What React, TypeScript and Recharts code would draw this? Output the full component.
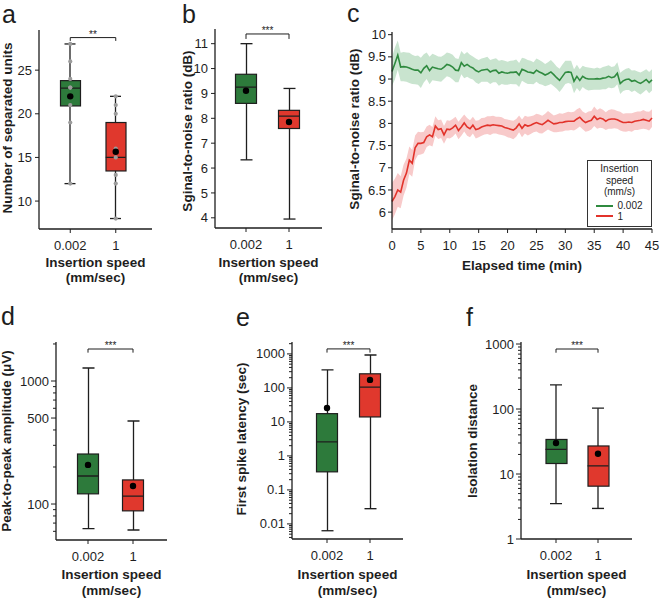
import React from 'react';
import {
  ComposedChart, Bar, Scatter, Line, Area, XAxis, YAxis, ReferenceLine, Label, Legend,
} from 'recharts';

const FONT = 'Arial, "Liberation Sans", Helvetica, sans-serif';
const INK = '#1e1e1e';
const GREEN = '#2d7a3b';
const RED = '#e0382d';
const GREEN_LINE = '#2f8a3f';
const RED_LINE = '#e2332b';
const GREEN_BAND = '#c9e4cf';
const RED_BAND = '#f8caca';
const DOT_GRAY = '#9c9c9c';

// ---------- shared categories ----------
const speedCategories = ['0.002', '1'];
const speedColors = [GREEN, RED];
const xTitleLines = ['Insertion speed', '(mm/sec)'];

// ---------- panel a : number of separated units ----------
const unitsLow = [12, 8];
const unitsQ1 = [20.9, 13.45];
const unitsMedian = [22.95, 15];
const unitsQ3 = [23.8, 19];
const unitsHigh = [28, 22];
const unitsMean = [22, 15.65];
const unitsPoints = [
  [28, 22], [26, 21], [24, 20], [23, 16], [23, 15], [21, 13], [19, 12], [12, 8],
];
const unitsTicks = [10, 15, 20, 25];

// ---------- panel b : SNR ----------
const snrLow = [6.33, 3.95];
const snrQ1 = [8.6, 7.59];
const snrMedian = [9.25, 8.09];
const snrQ3 = [9.77, 8.32];
const snrHigh = [11.0, 9.2];
const snrMean = [9.11, 7.85];
const snrTicks = [4, 5, 6, 7, 8, 9, 10, 11];

// ---------- panel c : SNR over time ----------
const timeMinutes = [
  0, 0.5, 1, 1.5, 2, 2.5, 3, 3.5, 4, 4.5, 5,
  5.5, 6, 6.5, 7, 7.5, 8, 8.5, 9, 9.5, 10,
  10.5, 11, 11.5, 12, 12.5, 13, 13.5, 14, 14.5, 15,
  15.5, 16, 16.5, 17, 17.5, 18, 18.5, 19, 19.5, 20,
  20.5, 21, 21.5, 22, 22.5, 23, 23.5, 24, 24.5, 25,
  25.5, 26, 26.5, 27, 27.5, 28, 28.5, 29, 29.5, 30,
  30.5, 31, 31.5, 32, 32.5, 33, 33.5, 34, 34.5, 35,
  35.5, 36, 36.5, 37, 37.5, 38, 38.5, 39, 39.5, 40,
  40.5, 41, 41.5, 42, 42.5, 43, 43.5, 44, 44.5, 45,
];
const slowSnrMean = [
  9.17, 9.35, 9.54, 9.27, 9.28, 9.27, 9.25, 9.22, 9.2, 9.2, 9.14,
  9.24, 9.3, 9.19, 9.27, 9.25, 9.23, 9.22, 9.27, 9.33, 9.31,
  9.27, 9.2, 9.19, 9.37, 9.29, 9.33, 9.28, 9.25, 9.19, 9.16,
  9.2, 9.21, 9.22, 9.16, 9.19, 9.2, 9.13, 9.16, 9.14, 9.13,
  9.15, 9.15, 9.16, 9.09, 9.22, 9.19, 9.16, 9.15, 9.13, 9.2,
  9.16, 9.13, 9.09, 9.12, 9.16, 9.1, 9.03, 8.97, 9.06, 9.15,
  9.16, 9.15, 8.95, 9.06, 8.97, 9.06, 9.02, 9.0, 9.0, 9.0,
  9.01, 9.0, 9.02, 9.03, 9.06, 9.03, 9.05, 9.13, 8.9, 8.96,
  8.99, 9.0, 8.95, 8.97, 8.93, 8.9, 8.94, 8.99, 8.92, 8.98,
];
const slowSnrSpread = [
  0.32, 0.36, 0.33, 0.32, 0.33, 0.33, 0.34, 0.33, 0.32, 0.33, 0.34,
  0.32, 0.3, 0.31, 0.3, 0.29, 0.28, 0.28, 0.27, 0.27, 0.27,
  0.28, 0.27, 0.26, 0.26, 0.27, 0.28, 0.27, 0.26, 0.27, 0.27,
  0.26, 0.27, 0.28, 0.27, 0.26, 0.27, 0.28, 0.27, 0.27, 0.26,
  0.26, 0.27, 0.28, 0.27, 0.26, 0.27, 0.27, 0.26, 0.25, 0.26,
  0.27, 0.26, 0.25, 0.26, 0.27, 0.26, 0.25, 0.26, 0.27, 0.26,
  0.25, 0.26, 0.27, 0.26, 0.25, 0.24, 0.25, 0.26, 0.25, 0.24,
  0.25, 0.24, 0.25, 0.26, 0.25, 0.24, 0.24, 0.25, 0.24, 0.23,
  0.24, 0.25, 0.24, 0.23, 0.24, 0.25, 0.24, 0.23, 0.24, 0.24,
];
const fastSnrMean = [
  6.24, 6.35, 6.5, 6.45, 6.72, 6.88, 7.17, 7.1, 7.45, 7.55, 7.55,
  7.57, 7.7, 7.74, 7.7, 7.94, 7.86, 7.88, 7.74, 7.87, 7.86,
  7.9, 7.96, 7.84, 7.92, 8.01, 7.92, 7.88, 7.96, 7.86, 7.88,
  7.92, 7.94, 7.96, 7.95, 7.97, 7.96, 7.95, 7.94, 7.91, 7.89,
  7.87, 7.85, 7.9, 7.99, 7.89, 7.97, 7.94, 7.96, 7.99, 8.02,
  7.99, 7.97, 8.02, 8.07, 8.03, 7.99, 8.0, 8.02, 8.02, 8.04,
  8.05, 8.05, 8.05, 8.1, 8.14, 8.07, 8.02, 8.05, 8.07, 8.16,
  8.09, 8.12, 8.1, 8.05, 8.09, 8.1, 8.1, 8.08, 8.05, 8.02,
  8.02, 8.03, 8.02, 8.05, 8.06, 8.07, 8.09, 8.07, 8.05, 8.12,
];
const fastSnrSpread = [
  0.42, 0.4, 0.38, 0.36, 0.35, 0.33, 0.31, 0.3, 0.28, 0.26, 0.25,
  0.24, 0.23, 0.23, 0.22, 0.22, 0.21, 0.21, 0.2, 0.2, 0.2,
  0.2, 0.19, 0.2, 0.2, 0.19, 0.2, 0.19, 0.19, 0.2, 0.19,
  0.2, 0.19, 0.2, 0.21, 0.2, 0.19, 0.2, 0.2, 0.19, 0.2,
  0.2, 0.21, 0.2, 0.19, 0.2, 0.2, 0.21, 0.2, 0.19, 0.2,
  0.21, 0.2, 0.2, 0.21, 0.2, 0.19, 0.2, 0.21, 0.2, 0.2,
  0.21, 0.2, 0.21, 0.22, 0.21, 0.2, 0.21, 0.22, 0.21, 0.22,
  0.21, 0.22, 0.21, 0.2, 0.21, 0.22, 0.21, 0.2, 0.21, 0.2,
  0.21, 0.2, 0.21, 0.2, 0.21, 0.2, 0.21, 0.2, 0.21, 0.2,
];
const timeTicks = [0, 5, 10, 15, 20, 25, 30, 35, 40, 45];
const snrTimeTicks = [6, 6.5, 7, 7.5, 8, 8.5, 9, 9.5, 10];
const legendTitleLines = ['Insertion', 'speed', '(mm/s)'];

// ---------- panel d : peak-to-peak amplitude ----------
const ampLow = [63, 61.5];
const ampQ1 = [121, 88];
const ampMedian = [169, 116];
const ampQ3 = [255, 157];
const ampHigh = [1276, 473];
const ampMean = [208, 140];
const ampMajorTicks = [100, 500, 1000];
const ampMinorTicks = [60, 70, 80, 90, 200, 300, 400, 600, 700, 800, 900, 2000];

// ---------- panel e : first spike latency ----------
const latLow = [0.0063, 0.028];
const latQ1 = [0.34, 14];
const latMedian = [2.6, 106];
const latQ3 = [17.5, 260];
const latHigh = [338, 930];
const latMean = [25.7, 172];
const latMajorTicks = [0.01, 0.1, 1, 10, 100, 1000];

// ---------- panel f : isolation distance ----------
const isoLow = [3.5, 2.95];
const isoQ1 = [14.5, 6.5];
const isoMedian = [24, 13.3];
const isoQ3 = [34, 27];
const isoHigh = [235, 103];
const isoMean = [30, 20.5];
const isoMajorTicks = [1, 10, 100, 1000];

const logDecades = [0.001, 0.01, 0.1, 1, 10, 100, 1000];
const logMultipliers = [2, 3, 4, 5, 6, 7, 8, 9];

function minorTicksWithin(lo: number, hi: number) {
  const out: number[] = [];
  logDecades.forEach((d) => logMultipliers.forEach((m) => {
    const v = d * m;
    if (v >= lo && v <= hi) out.push(v);
  }));
  return out;
}

function makeBoxRows(low: number[], q1: number[], med: number[], q3: number[], high: number[], mean: number[], points?: number[][]) {
  return speedCategories.map((cat, i) => {
    const row: any = {
      cat, whisk: [low[i], high[i]], box: [q1[i], q3[i]], med: med[i], mean: mean[i], color: speedColors[i],
    };
    (points || []).forEach((pair, k) => { row['p' + k] = pair[i]; });
    return row;
  });
}

const timeRows = timeMinutes.map((t, i) => ({
  t,
  g: slowSnrMean[i],
  gBand: [slowSnrMean[i] - slowSnrSpread[i], slowSnrMean[i] + slowSnrSpread[i]],
  r: fastSnrMean[i],
  rBand: [fastSnrMean[i] - fastSnrSpread[i], fastSnrMean[i] + fastSnrSpread[i]],
}));

// ---------- shapes ----------
const WhiskerShape = (props: any) => {
  const { x, y, width, height } = props;
  if (x == null || y == null) return <g />;
  const cx = x + width / 2;
  const top = Math.min(y, y + height);
  const bot = Math.max(y, y + height);
  return (
    <g stroke={INK} strokeWidth={1.3}>
      <line x1={cx} x2={cx} y1={top} y2={bot} />
      <line x1={x} x2={x + width} y1={top} y2={top} />
      <line x1={x} x2={x + width} y1={bot} y2={bot} />
    </g>
  );
};

const BoxShape = (props: any) => {
  const { x, y, width, height, payload } = props;
  if (x == null || y == null) return <g />;
  const top = Math.min(y, y + height);
  return (
    <rect x={x} y={top} width={width} height={Math.abs(height)}
      fill={(payload && payload.color) || props.fill} stroke={INK} strokeWidth={1.2} />
  );
};

const medianShape = (w: number) => (props: any) => (
  <line x1={props.cx - w / 2} x2={props.cx + w / 2} y1={props.cy} y2={props.cy} stroke={INK} strokeWidth={1.3} />
);
const GrayDot = (props: any) => <circle cx={props.cx} cy={props.cy} r={2.1} fill={DOT_GRAY} />;
const MeanDot = (props: any) => <circle cx={props.cx} cy={props.cy} r={3.2} fill="#000" />;

const LogTick = (props: any) => {
  const { x, y, payload, majors } = props;
  const isMajor = majors.includes(payload.value);
  return (
    <g>
      <line x1={x - (isMajor ? 5 : 3)} x2={x} y1={y} y2={y} stroke={INK} strokeWidth={1} />
      {isMajor && (
        <text x={x - 7} y={y} dy="0.35em" textAnchor="end" fontSize={13} fill={INK} fontFamily={FONT}>
          {String(payload.value)}
        </text>
      )}
    </g>
  );
};

const xTitleContent = (lines: string[], dys: number[]) => (props: any) => {
  const vb = props.viewBox || { x: 0, y: 0, width: 0 };
  const cx = vb.x + vb.width / 2;
  return (
    <g>
      {lines.map((ln, i) => (
        <text key={i} x={cx} y={vb.y + dys[i]} textAnchor="middle" dominantBaseline="central"
          fontFamily={FONT} fontSize={13.5} fontWeight="bold" fill={INK}>{ln}</text>
      ))}
    </g>
  );
};

const yTitleContent = (title: string, tx: number, ty: number) => () => (
  <text x={tx} y={ty} transform={`rotate(-90, ${tx}, ${ty})`} textAnchor="middle" dominantBaseline="central"
    fontFamily={FONT} fontSize={13.5} fontWeight="bold" fill={INK}>{title}</text>
);

const axisLineStyle = { stroke: INK, strokeWidth: 1.3 };
const tickStyle = { fontSize: 13, fill: INK, fontFamily: FONT };

type BoxPanelProps = {
  left: number; top: number; width: number; height: number;
  marginTop: number; marginRight: number;
  yWidth: number; xHeight: number; padL: number; padR: number;
  rows: any[]; log?: boolean; domain: [number, number];
  ticks: number[]; majors?: number[];
  yTitle: string; yTitleX: number; yTitleY: number; xTitleDy: number[];
  bracket: { y: number; yEnd: number; text: string };
  boxW: number; capW: number; pointCount?: number;
};

const BoxPanel = (p: BoxPanelProps) => {
  const pointKeys = Array.from({ length: p.pointCount || 0 }, (_, k) => 'p' + k);
  const yProps: any = p.log
    ? {
      scale: 'log', type: 'number', domain: p.domain, allowDataOverflow: true, ticks: p.ticks, interval: 0,
      tickSize: 0, tickMargin: 0, tickLine: false,
      tick: (tp: any) => <LogTick {...tp} majors={p.majors || []} />,
    }
    : {
      type: 'number', domain: p.domain, allowDataOverflow: true, ticks: p.ticks, interval: 0,
      tickSize: 4, tickMargin: 3, tickLine: { stroke: INK }, tick: tickStyle,
    };
  return (
    <div style={{ position: 'absolute', left: p.left, top: p.top, width: p.width, height: p.height }}>
      <ComposedChart width={p.width} height={p.height} data={p.rows}
        margin={{ top: p.marginTop, right: p.marginRight, left: 0, bottom: 0 }}>
        <XAxis xAxisId="x" dataKey="cat" type="category" height={p.xHeight}
          padding={{ left: p.padL, right: p.padR }} tickSize={4} tickMargin={8}
          axisLine={axisLineStyle} tickLine={{ stroke: INK }} tick={tickStyle} interval={0}>
          <Label content={xTitleContent(xTitleLines, p.xTitleDy)} />
        </XAxis>
        <XAxis xAxisId="w" dataKey="cat" type="category" hide height={0} padding={{ left: p.padL, right: p.padR }} />
        <XAxis xAxisId="top" orientation="top" dataKey="cat" type="category" height={0}
          tick={false} tickLine={false} axisLine={axisLineStyle} />
        <YAxis width={p.yWidth} axisLine={axisLineStyle} {...yProps}>
          <Label content={yTitleContent(p.yTitle, p.yTitleX, p.yTitleY)} />
        </YAxis>
        <YAxis yAxisId="right" orientation="right" width={0} type="number" domain={[0, 1]}
          tick={false} tickLine={false} axisLine={axisLineStyle} />
        <Bar xAxisId="w" dataKey="whisk" barSize={p.capW} shape={WhiskerShape} isAnimationActive={false} />
        <Bar xAxisId="x" dataKey="box" barSize={p.boxW} shape={BoxShape} isAnimationActive={false} />
        <Scatter xAxisId="x" dataKey="med" shape={medianShape(p.boxW)} isAnimationActive={false} />
        {pointKeys.map((k) => (
          <Scatter key={k} xAxisId="x" dataKey={k} shape={GrayDot} isAnimationActive={false} />
        ))}
        <Scatter xAxisId="x" dataKey="mean" shape={MeanDot} isAnimationActive={false} />
        <ReferenceLine xAxisId="x" ifOverflow="visible" stroke={INK} strokeWidth={1}
          segment={[{ x: speedCategories[0], y: p.bracket.y }, { x: speedCategories[1], y: p.bracket.y }]}
          label={{ value: p.bracket.text, position: 'top', offset: 0, fontSize: 10, fill: INK, fontFamily: FONT }} />
        <ReferenceLine xAxisId="x" ifOverflow="visible" stroke={INK} strokeWidth={1}
          segment={[{ x: speedCategories[0], y: p.bracket.y }, { x: speedCategories[0], y: p.bracket.yEnd }]} />
        <ReferenceLine xAxisId="x" ifOverflow="visible" stroke={INK} strokeWidth={1}
          segment={[{ x: speedCategories[1], y: p.bracket.y }, { x: speedCategories[1], y: p.bracket.yEnd }]} />
      </ComposedChart>
    </div>
  );
};

const SpeedLegend = (props: any) => {
  const items = (props.payload || []).filter((it: any) => it.type !== 'none');
  return (
    <div style={{
      boxSizing: 'border-box', width: 65, height: 67, border: '1.5px solid #333', background: '#fff',
      fontFamily: FONT, fontSize: 10, color: INK, lineHeight: '11.5px', paddingTop: 2,
    }}>
      {legendTitleLines.map((t) => <div key={t} style={{ textAlign: 'center' }}>{t}</div>)}
      <div style={{ marginTop: 3 }}>
        {items.map((it: any) => (
          <div key={String(it.value)} style={{ display: 'flex', alignItems: 'center', height: 10.5, marginLeft: 7.5 }}>
            <span style={{ display: 'inline-block', width: 17, height: 2, background: it.color, marginRight: 5 }} />
            <span>{it.value}</span>
          </div>
        ))}
      </div>
    </div>
  );
};

const TimePanel = () => (
  <div style={{ position: 'absolute', left: 340, top: 0, width: 320, height: 295 }}>
    <ComposedChart width={320} height={295} data={timeRows} margin={{ top: 32, right: 8, left: 0, bottom: 0 }}>
      <XAxis xAxisId="x" dataKey="t" type="number" domain={[0, 45]} ticks={timeTicks} interval={0}
        height={66} tickSize={4} tickMargin={8} axisLine={axisLineStyle} tickLine={{ stroke: INK }} tick={tickStyle}>
        <Label content={xTitleContent(['Elapsed time (min)'], [36])} />
      </XAxis>
      <XAxis xAxisId="top" orientation="top" type="number" domain={[0, 45]} height={0}
        tick={false} tickLine={false} axisLine={axisLineStyle} />
      <YAxis type="number" domain={[5.62, 10.06]} allowDataOverflow ticks={snrTimeTicks} interval={0}
        width={52} tickSize={4} tickMargin={2} axisLine={axisLineStyle} tickLine={{ stroke: INK }} tick={tickStyle}>
        <Label content={yTitleContent('Sginal-to-noise ratio (dB)', 14, 129)} />
      </YAxis>
      <YAxis yAxisId="right" orientation="right" width={0} type="number" domain={[0, 1]}
        tick={false} tickLine={false} axisLine={axisLineStyle} />
      <Area xAxisId="x" type="linear" dataKey="gBand" stroke="none" fill={GREEN_BAND} fillOpacity={1}
        legendType="none" isAnimationActive={false} />
      <Area xAxisId="x" type="linear" dataKey="rBand" stroke="none" fill={RED_BAND} fillOpacity={1}
        legendType="none" isAnimationActive={false} />
      <Line xAxisId="x" type="linear" dataKey="g" name="0.002" stroke={GREEN_LINE} strokeWidth={1.6}
        dot={false} isAnimationActive={false} />
      <Line xAxisId="x" type="linear" dataKey="r" name="1" stroke={RED_LINE} strokeWidth={1.6}
        dot={false} isAnimationActive={false} />
      <Legend layout="vertical" align="center" verticalAlign="middle" content={SpeedLegend}
        wrapperStyle={{ left: 247, top: 160, width: 65, height: 67 }} />
    </ComposedChart>
  </div>
);

const letterStyle = (left: number, top: number): React.CSSProperties => ({
  position: 'absolute', left, top, fontFamily: FONT, fontSize: 25, lineHeight: '25px', color: INK,
});

export default function App() {
  return (
    <div style={{ position: 'absolute', left: 0, top: 0, width: 660, height: 598, background: '#fff', overflow: 'hidden' }}>
      <BoxPanel left={0} top={0} width={160} height={295} marginTop={30} marginRight={8}
        yWidth={39} xHeight={66} padL={8.5} padR={13.5}
        rows={makeBoxRows(unitsLow, unitsQ1, unitsMedian, unitsQ3, unitsHigh, unitsMean, unitsPoints)}
        domain={[6.8, 29.6]} ticks={unitsTicks}
        yTitle="Number of separated units" yTitleX={7.5} yTitleY={128} xTitleDy={[33, 48]}
        bracket={{ y: 28.73, yEnd: 28.35, text: '**' }} boxW={20} capW={11} pointCount={unitsPoints.length} />
      <BoxPanel left={170} top={0} width={160} height={295} marginTop={29} marginRight={8}
        yWidth={45} xHeight={67} padL={9.5} padR={11.5}
        rows={makeBoxRows(snrLow, snrQ1, snrMedian, snrQ3, snrHigh, snrMean)}
        domain={[3.59, 11.59]} ticks={snrTicks}
        yTitle="Sginal-to-noise ratio (dB)" yTitleX={17.5} yTitleY={131} xTitleDy={[34, 49]}
        bracket={{ y: 11.39, yEnd: 11.19, text: '***' }} boxW={21} capW={12} />
      <TimePanel />
      <BoxPanel left={0} top={300} width={175} height={298} marginTop={42} marginRight={8}
        yWidth={56} xHeight={58} padL={9.5} padR={11.5}
        rows={makeBoxRows(ampLow, ampQ1, ampMedian, ampQ3, ampHigh, ampMean)}
        log domain={[51, 2075]} ticks={[...ampMajorTicks, ...ampMinorTicks]} majors={ampMajorTicks}
        yTitle="Peak-to-peak amplitude (μV)" yTitleX={6} yTitleY={141} xTitleDy={[34, 50]}
        bracket={{ y: 1820, yEnd: 1700, text: '***' }} boxW={21} capW={12} />
      <BoxPanel left={230} top={300} width={181} height={298} marginTop={42} marginRight={8}
        yWidth={62} xHeight={59} padL={13.5} padR={11.5}
        rows={makeBoxRows(latLow, latQ1, latMedian, latQ3, latHigh, latMean)}
        log domain={[0.0036, 2240]} ticks={[...latMajorTicks, ...minorTicksWithin(0.0036, 2240)]} majors={latMajorTicks}
        yTitle="First spike latency (sec)" yTitleX={11} yTitleY={139} xTitleDy={[35, 51]}
        bracket={{ y: 1403, yEnd: 1092, text: '***' }} boxW={21} capW={12} />
      <BoxPanel left={460} top={300} width={180} height={298} marginTop={42} marginRight={8}
        yWidth={61} xHeight={59} padL={14} padR={13}
        rows={makeBoxRows(isoLow, isoQ1, isoMedian, isoQ3, isoHigh, isoMean)}
        log domain={[1, 1074]} ticks={[...isoMajorTicks, ...minorTicksWithin(1, 1074)]} majors={isoMajorTicks}
        yTitle="Isolation distance" yTitleX={12} yTitleY={141} xTitleDy={[35, 51]}
        bracket={{ y: 838, yEnd: 735, text: '***' }} boxW={21} capW={12} />
      <div style={letterStyle(2, 2)}>a</div>
      <div style={letterStyle(182, 2)}>b</div>
      <div style={letterStyle(347, 1)}>c</div>
      <div style={letterStyle(1, 304)}>d</div>
      <div style={letterStyle(236, 305)}>e</div>
      <div style={letterStyle(466, 305)}>f</div>
    </div>
  );
}
